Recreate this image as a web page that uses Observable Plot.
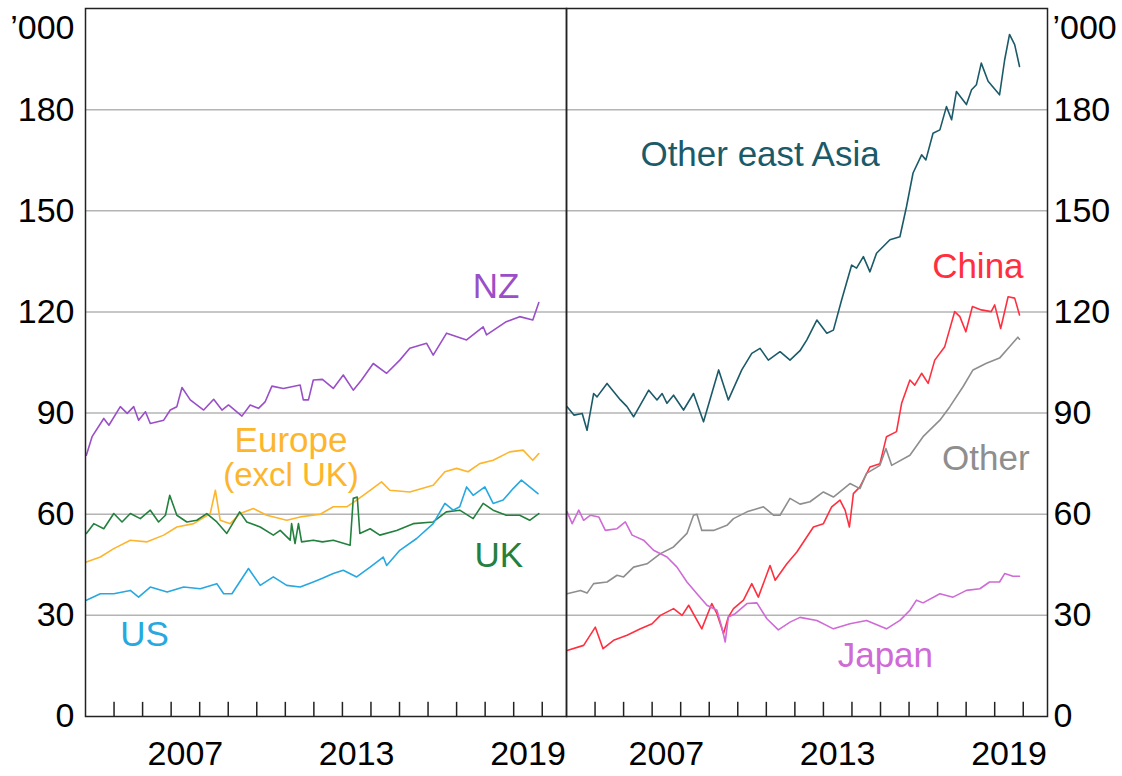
<!DOCTYPE html>
<html><head><meta charset="utf-8">
<script src="https://cdn.jsdelivr.net/npm/d3@7"></script>
<script src="https://cdn.jsdelivr.net/npm/@observablehq/plot@0.6"></script>
<style>body{margin:0;background:#fff} svg{display:block}</style>
</head><body><div id="chart"></div>
<script>
// ---- Data (thousands, decimal years) ----
const panels = ["left", "right"];
const yTicks = [0, 30, 60, 90, 120, 150, 180];
const gridValues = [30, 60, 90, 120, 150, 180];
const yearTicks = [2005, 2006, 2007, 2008, 2009, 2010, 2011, 2012, 2013, 2014, 2015, 2016, 2017, 2018, 2019, 2020];
const yearLabels = [2007, 2013, 2019];

const nzT = [2004.03,2004.23,2004.64,2004.82,2005.22,2005.46,2005.69,2005.86,2006.1,2006.27,2006.74,2006.97,2007.2,2007.38,2007.67,2008.14,2008.49,2008.78,2009.01,2009.48,2009.77,2010.06,2010.29,2010.53,2010.93,2011.52,2011.63,2011.81,2011.98,2012.3,2012.68,2013.03,2013.38,2013.67,2014.08,2014.55,2015.01,2015.36,2015.95,2016.18,2016.65,2017.35,2017.93,2018.05,2018.74,2019.21,2019.67,2019.88];
const nzV = [77.5,83,88.4,86.4,91.9,89.9,91.9,87.9,90.4,86.9,87.9,90.9,91.9,97.6,93.9,90.9,94.1,90.9,92.4,89.1,92.4,91.4,93.3,98.0,97.3,98.3,93.9,93.9,99.8,100,97.3,101.3,96.8,99.8,104.7,101.8,105.7,109.2,110.7,107.2,113.7,111.7,115.6,113.2,117.1,118.6,117.6,122.8];

const euT = [2004.03,2004.52,2004.99,2005.57,2006.16,2006.74,2007.2,2007.79,2008.37,2008.55,2008.72,2009.07,2009.42,2009.88,2010.35,2011.05,2011.52,2012.22,2012.68,2013.15,2013.5,2013.97,2014.37,2014.66,2015.36,2016.18,2016.59,2017.0,2017.4,2017.81,2018.28,2018.86,2019.33,2019.67,2019.88];
const euV = [45.8,47.3,49.8,52.3,51.8,53.8,56.2,57.2,60.2,67.1,58.2,57.2,60.2,61.7,59.7,58.2,59.2,60.0,62.2,62.2,64.2,67.1,69.6,67.1,66.6,68.6,72.6,73.6,72.6,75.0,76.0,78.5,79.0,76.0,78.0];

const ukT = [2004.03,2004.29,2004.64,2004.99,2005.28,2005.57,2005.92,2006.27,2006.56,2006.8,2006.95,2007.2,2007.55,2007.9,2008.25,2008.6,2008.95,2009.4,2009.65,2010.12,2010.58,2010.82,2011.17,2011.22,2011.34,2011.46,2011.57,2011.98,2012.3,2012.68,2013.27,2013.38,2013.52,2013.61,2013.97,2014.31,2014.9,2015.48,2016.18,2016.64,2017.11,2017.58,2017.93,2018.28,2018.74,2019.21,2019.56,2019.88];
const ukV = [54.3,57.2,55.7,60.2,57.7,60.2,58.7,61.2,57.7,59.7,65.6,59.7,57.7,58.2,60.2,57.7,54.3,60.7,57.7,56.2,53.8,55.2,52.3,57.2,51.3,57.2,51.8,52.3,51.8,52.3,50.8,64.7,65.1,54.3,55.7,53.8,55.2,57.2,57.7,60.7,61.2,58.7,63.2,61.2,59.7,59.7,58.2,60.2];

const usT = [2004.03,2004.52,2004.99,2005.57,2005.86,2006.27,2006.86,2007.44,2008.02,2008.6,2008.84,2009.13,2009.71,2010.12,2010.58,2011.05,2011.52,2011.98,2012.3,2012.68,2013.03,2013.5,2013.97,2014.43,2014.55,2015.01,2015.6,2016.18,2016.59,2016.88,2017.11,2017.35,2017.58,2017.99,2018.28,2018.63,2018.98,2019.27,2019.56,2019.85];
const usV = [34.5,36.4,36.4,37.4,35.4,38.4,36.9,38.4,37.9,39.4,36.4,36.4,43.9,38.9,41.4,38.9,38.4,39.9,41.0,42.4,43.4,41.4,44.3,47.3,44.8,49.3,52.8,57.2,63.2,61.2,62.2,68.1,65.6,68.1,63.2,64.2,67.6,70.1,68.1,66.1];

const oeaT = [2004.02,2004.26,2004.55,2004.72,2004.95,2005.07,2005.42,2005.89,2006.12,2006.35,2006.88,2007.17,2007.35,2007.52,2007.75,2008.1,2008.45,2008.8,2009.33,2009.67,2010.14,2010.49,2010.78,2011.07,2011.48,2011.83,2012.18,2012.42,2012.77,2013.12,2013.35,2013.64,2013.99,2014.16,2014.4,2014.63,2014.86,2015.33,2015.68,2015.91,2016.14,2016.44,2016.59,2016.84,2017.08,2017.31,2017.49,2017.66,2018.01,2018.19,2018.36,2018.53,2018.77,2019.17,2019.35,2019.52,2019.7,2019.87];
const oeaV = [91.9,89.4,89.9,84.9,95.8,94.8,98.8,93.9,91.9,88.9,96.8,93.9,95.8,92.9,95.3,90.9,95.8,87.4,102.8,93.9,102.8,107.7,109.2,105.7,108.2,105.7,108.5,111.7,117.6,113.7,114.6,123.6,133.9,133.0,136.4,131.9,137.4,141.4,142.3,151.2,161.2,166.6,165.1,173.0,174.0,180.9,177.0,185.4,181.5,185.9,187.4,193.8,188.4,184.4,194.8,202.3,199.3,192.8];

const chT = [2004.02,2004.6,2005.01,2005.28,2005.65,2006.12,2006.59,2007.0,2007.29,2007.75,2008.05,2008.28,2008.74,2009.09,2009.27,2009.5,2009.67,2009.85,2010.2,2010.49,2010.72,2011.13,2011.31,2011.72,2012.07,2012.4,2012.65,2013.0,2013.29,2013.58,2013.76,2013.91,2014.05,2014.28,2014.63,2014.98,2015.21,2015.56,2015.74,2016.03,2016.2,2016.44,2016.67,2016.9,2017.25,2017.6,2017.78,2017.99,2018.22,2018.53,2018.88,2019.0,2019.21,2019.47,2019.7,2019.87];
const chV = [19.6,21.1,26.5,20.1,22.6,24.1,26.0,27.5,30.0,32.0,30.0,33.0,26.0,33.5,30.5,24.6,29.5,32.0,34.5,39.4,35.4,44.8,40.4,45.3,48.8,53.0,56.2,57.2,62.2,64.2,61.2,56.2,66.1,68.1,74.0,75.0,83.0,84.5,92.9,99.8,98.3,101.8,98.8,105.7,109.7,120.1,118.6,114.1,121.6,120.6,120.1,122.1,115.1,124.5,124.1,119.1];

const otT = [2004.02,2004.49,2004.72,2004.95,2005.42,2005.77,2006.0,2006.35,2006.82,2007.29,2007.75,2008.22,2008.45,2008.57,2008.74,2009.15,2009.62,2009.85,2010.32,2010.9,2011.25,2011.48,2011.83,2012.18,2012.53,2013.0,2013.35,2013.93,2014.28,2014.51,2014.98,2015.19,2015.39,2016.03,2016.49,2017.08,2017.43,2017.89,2018.24,2018.71,2019.17,2019.52,2019.81,2019.87];
const otV = [36.4,37.4,36.6,39.4,39.9,41.9,41.4,44.3,45.3,48.3,50.3,54.3,59.7,60.0,55.2,55.2,56.7,58.7,60.7,62.2,59.7,59.7,64.7,63.0,63.7,66.6,65.1,69.1,67.6,72.1,74.5,79.5,74.5,77.5,83.0,87.9,91.9,97.8,102.8,104.8,106.3,109.7,112.5,111.9];

const jpT = [2004.02,2004.2,2004.43,2004.6,2004.84,2005.13,2005.36,2005.77,2006.06,2006.3,2006.7,2007.05,2007.52,2007.87,2008.22,2008.57,2008.92,2009.27,2009.44,2009.56,2009.67,2009.91,2010.32,2010.67,2011.02,2011.42,2011.83,2012.18,2012.77,2013.35,2013.93,2014.51,2015.21,2015.68,2016.03,2016.26,2016.49,2017.08,2017.54,2018.01,2018.48,2018.82,2019.17,2019.35,2019.64,2019.87];
const jpV = [60.7,57.2,61.2,58.2,59.7,59.2,55.2,55.7,57.7,53.8,52.3,49.3,47.3,44.3,39.9,36.4,33.0,31.5,26.5,22.1,29.5,30.5,33.5,33.7,29.0,25.7,28.0,29.4,28.5,26.0,27.5,28.5,26.0,28.5,31.5,34.5,33.7,36.4,35.4,37.4,37.9,39.9,39.9,42.4,41.6,41.6];

const seriesNames  = ["NZ", "Europe", "UK", "US", "Other east Asia", "China", "Other", "Japan"];
const seriesPanels = ["left", "left", "left", "left", "right", "right", "right", "right"];
const seriesColors = ["#9a4fc8", "#fdb52c", "#23803e", "#27a8e0", "#1b5a69", "#ff2f40", "#8e8e8e", "#cf6ad6"];
const seriesT = [nzT, euT, ukT, usT, oeaT, chT, otT, jpT];
const seriesV = [nzV, euV, ukV, usV, oeaV, chV, otV, jpV];

const labelText  = ["NZ", "Europe", "UK", "US", "Other east Asia", "China", "Other", "Japan"];
const labelT = [2018.38, 2011.2, 2018.48, 2006.07, 2010.78, 2018.41, 2018.69, 2015.17];
const labelV = [127.5, 81.9, 47.8, 24.1, 166.6, 133.4, 76.5, 18.1];
const subLabelText = ["(excl UK)"];
const subLabelT = [2011.2];
const subLabelV = [71.6];

// ---- Build tables ----
const rows = seriesNames.flatMap((name, i) =>
  seriesT[i].map((t, j) => ({name, panel: seriesPanels[i], t, v: seriesV[i][j]})));
const labels = seriesNames.map((name, i) =>
  ({name, panel: seriesPanels[i], text: labelText[i], t: labelT[i], v: labelV[i]}));
const subLabels = subLabelText.map((text, i) =>
  ({name: "Europe", panel: "left", text, t: subLabelT[i], v: subLabelV[i]}));

const font = "'Liberation Sans', Arial, sans-serif";

const chart = Plot.plot({
  width: 1122, height: 776,
  marginLeft: 85, marginRight: 75, marginTop: 8, marginBottom: 60,
  style: {fontFamily: font, background: "#fff", color: "#000"},
  fx: {domain: panels, padding: 0, axis: null},
  x: {domain: [2004, 2020.85]},
  y: {domain: [0, 210]},
  color: {domain: seriesNames, range: seriesColors},
  marks: [
    Plot.ruleY(gridValues, {stroke: "#b4b4b4", strokeWidth: 1.5}),
    Plot.ruleX(yearTicks, {y1: 0, y2: 4.2, stroke: "#222", strokeWidth: 1.5}),
    Plot.line(rows, {fx: "panel", x: "t", y: "v", z: "name", stroke: "name", strokeWidth: 1.6}),
    Plot.frame({stroke: "#222", strokeWidth: 1.5}),
    Plot.axisY({anchor: "left", ticks: yTicks, tickSize: 0, tickPadding: 11, fontSize: 34, label: null}),
    Plot.axisY({anchor: "right", ticks: yTicks, tickSize: 0, tickPadding: 6, fontSize: 34, label: null}),
    Plot.axisX({ticks: yearLabels.map(y => y + 0.5), tickSize: 0, tickPadding: 24,
                tickFormat: d => String(Math.floor(d)), fontSize: 34, label: null}),
    Plot.text(labels, {fx: "panel", x: "t", y: "v", text: "text", fill: "name",
                       fontSize: 35, textAnchor: "middle", lineAnchor: "middle"}),
    Plot.text(subLabels, {fx: "panel", x: "t", y: "v", text: "text", fill: "name",
                       fontSize: 33, textAnchor: "middle", lineAnchor: "middle"}),
    Plot.text([{panel: "left"}], {fx: "panel", frameAnchor: "top-left", text: () => "\u2019000",
                       textAnchor: "end", lineAnchor: "middle", dx: -11, dy: 20, fontSize: 34}),
    Plot.text([{panel: "right"}], {fx: "panel", frameAnchor: "top-right", text: () => "\u2019000",
                       textAnchor: "start", lineAnchor: "middle", dx: 5, dy: 20, fontSize: 34})
  ]
});
document.getElementById("chart").appendChild(chart);
</script>
</body></html>
